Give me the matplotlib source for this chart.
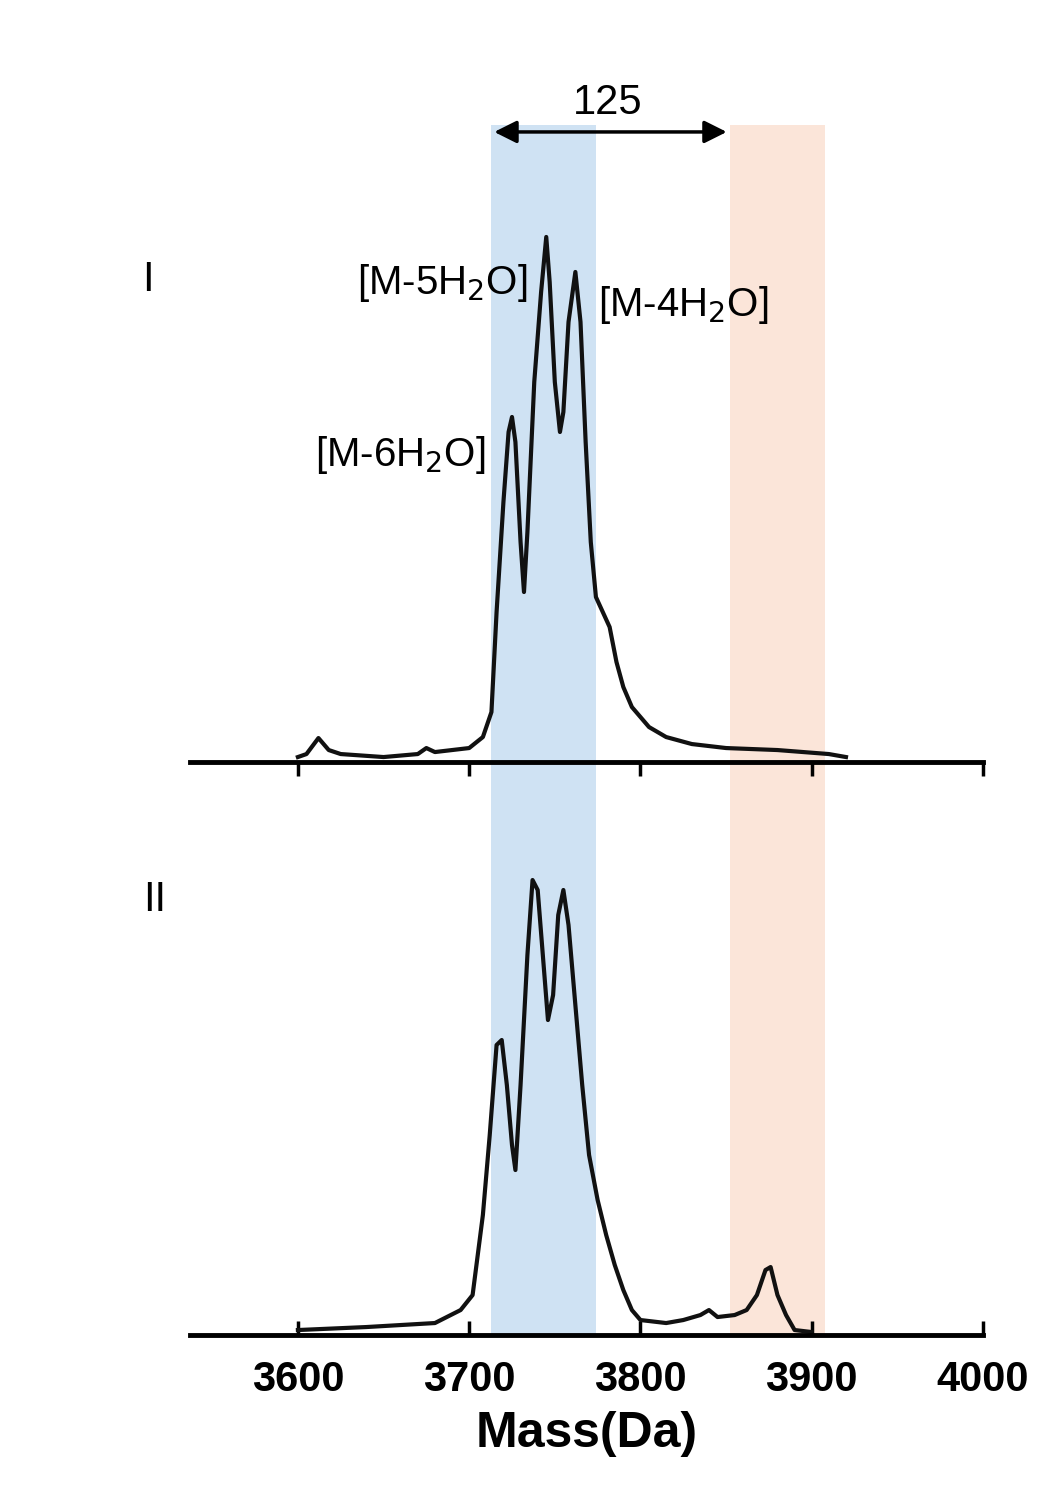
import matplotlib
matplotlib.use("Agg")
import matplotlib.pyplot as plt

plt.rcParams['font.family'] = ['Liberation Sans', 'DejaVu Sans']

mass_I = [3600,3605,3612,3618,3625,3650,3670,3675,3680,3700,3708,3713,3716,3720,3723,3725,3727,3730,3732,3734,3738,3742,3745,3747,3750,3753,3755,3758,3762,3765,3768,3771,3774,3778,3782,3786,3790,3795,3805,3815,3830,3850,3880,3910,3920]
int_I = [5,8,24,12,8,5,8,14,10,14,25,50,150,260,330,345,320,220,170,230,380,470,525,480,380,330,350,440,490,440,320,220,165,150,135,100,75,55,35,25,18,14,12,8,5]
mass_II = [3600,3640,3660,3680,3695,3702,3708,3712,3716,3719,3722,3725,3727,3730,3734,3737,3740,3743,3746,3749,3752,3755,3758,3762,3766,3770,3775,3780,3785,3790,3795,3800,3815,3825,3835,3840,3845,3855,3862,3868,3873,3876,3880,3885,3890,3900]
int_II = [5,8,10,12,25,40,120,200,290,295,250,190,165,250,380,455,445,380,315,340,420,445,410,330,250,180,135,100,70,45,25,15,12,15,20,25,18,20,25,40,65,68,40,20,5,3]
ticks = [3600,3700,3800,3900,4000]
blue_band = (3713, 3774)
orange_band = (3852, 3908)
XL = (3537, 4000)

fig = plt.figure(figsize=(10.39,14.91), dpi=100)
L, W = 190/1039, 793/1039
bg = fig.add_axes([L, 0.1046, W, 0.8116])
bg.set_xlim(XL); bg.set_ylim(0,1); bg.axis('off')
bg.axvspan(*blue_band, color='#cfe2f3', lw=0)
bg.axvspan(*orange_band, color='#fbe5d9', lw=0)

a1 = fig.add_axes([L, 0.4889, W, 0.4273]); a1.patch.set_alpha(0)
a2 = fig.add_axes([L, 0.1046, W, 0.3186]); a2.patch.set_alpha(0)
for ax, m, v, yl in [(a1, mass_I, int_I, 637), (a2, mass_II, int_II, 475)]:
    ax.plot(m, v, color='#111111', lw=3)
    ax.set_xlim(XL); ax.set_ylim(0, yl)
    for s in ['top','right','left']:
        ax.spines[s].set_visible(False)
    ax.spines['bottom'].set_linewidth(3.5)
    ax.set_yticks([])
    ax.set_xticks(ticks)
a1.tick_params(axis='x', direction='out', length=10, width=2.5, labelbottom=False)
a2.tick_params(axis='x', direction='in', length=10, width=2.5, labelsize=30, pad=18)
for t in a2.get_xticklabels():
    t.set_fontweight('bold')
a2.set_xlabel('Mass(Da)', fontsize=36, fontweight='bold', labelpad=8)

a1.annotate('', xy=(orange_band[0], 1-7/637), xytext=(blue_band[0], 1-7/637),
            xycoords=('data','axes fraction'),
            arrowprops=dict(arrowstyle='<|-|>', lw=2.5, color='black', mutation_scale=34))
fig.text(608/1039, 1-103/1491, '125', fontsize=30, ha='center', va='center')
fig.text(148/1039, 1-280/1491, 'I', fontsize=30, ha='center', va='center')
fig.text(155/1039, 1-900/1491, 'II', fontsize=30, ha='center', va='center')
fig.text(442/1039, 1-283/1491, '[M-5H$_2$O]', fontsize=29, ha='center', va='center')
fig.text(683/1039, 1-305/1491, '[M-4H$_2$O]', fontsize=29, ha='center', va='center')
fig.text(400/1039, 1-455/1491, '[M-6H$_2$O]', fontsize=29, ha='center', va='center')
fig.savefig('out.png', dpi=100)
